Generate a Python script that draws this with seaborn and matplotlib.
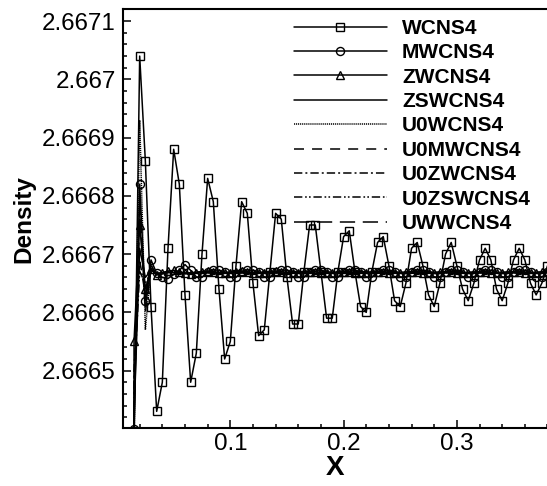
import numpy as np
import matplotlib
matplotlib.use("Agg")
import matplotlib.pyplot as plt
import seaborn as sns
from matplotlib.ticker import MultipleLocator, FuncFormatter
from matplotlib.font_manager import FontProperties

# Grid points (uniform spacing 0.005)
x = np.round(np.arange(0.010, 0.3801, 0.005), 3)

WCNS4 = [
    1.0, 2.66636, 2.66704, 2.66686, 2.66661,
    2.66643, 2.66648, 2.66671, 2.66688, 2.66682,
    2.66663, 2.66648, 2.66653, 2.66670, 2.66683,
    2.66679, 2.66664, 2.66652, 2.66655, 2.66668,
    2.66679, 2.66677, 2.66665, 2.66656, 2.66657,
    2.66667, 2.66677, 2.66676, 2.66666, 2.66658,
    2.66658, 2.66667, 2.66675, 2.66675, 2.66667,
    2.66659, 2.66659, 2.66667, 2.66673, 2.66674,
    2.66667, 2.66661, 2.66660, 2.66667, 2.66672,
    2.66673, 2.66668, 2.66662, 2.66661, 2.66665,
    2.66671, 2.66672, 2.66668, 2.66663, 2.66661,
    2.66665, 2.66670, 2.66672, 2.66668, 2.66664,
    2.66662, 2.66665, 2.66669, 2.66671, 2.66669,
    2.66664, 2.66662, 2.66665, 2.66669, 2.66671,
    2.66669, 2.66665, 2.66663, 2.66665, 2.66668,
]

MWCNS4 = [
    1.0, 2.66640, 2.66682, 2.66662, 2.66669,
    2.666667, 2.666660, 2.666658, 2.666665, 2.666672,
    2.666682, 2.666672, 2.666661, 2.666660, 2.666670,
    2.666673, 2.666672, 2.666670, 2.666661, 2.666660,
    2.666670, 2.666673, 2.666672, 2.666670, 2.666661,
    2.666660, 2.666670, 2.666673, 2.666672, 2.666670,
    2.666661, 2.666660, 2.666670, 2.666673, 2.666672,
    2.666670, 2.666661, 2.666660, 2.666670, 2.666673,
    2.666672, 2.666670, 2.666661, 2.666660, 2.666670,
    2.666673, 2.666672, 2.666670, 2.666661, 2.666660,
    2.666670, 2.666673, 2.666672, 2.666670, 2.666661,
    2.666660, 2.666670, 2.666673, 2.666672, 2.666670,
    2.666661, 2.666660, 2.666670, 2.666673, 2.666672,
    2.666670, 2.666661, 2.666660, 2.666670, 2.666673,
    2.666672, 2.666670, 2.666661, 2.666660, 2.666670,
]

ZWCNS4 = [
    1.0, 2.66655, 2.66675, 2.66664, 2.666675,
    2.666664, 2.666668, 2.666671, 2.666672, 2.666670,
    2.666667, 2.666666, 2.666668, 2.666670, 2.666671,
    2.666670, 2.666668, 2.666667, 2.666667, 2.666669,
    2.666671, 2.666670, 2.666668, 2.666667, 2.666667,
    2.666669, 2.666671, 2.666670, 2.666668, 2.666667,
    2.666667, 2.666669, 2.666670, 2.666670, 2.666668,
    2.666667, 2.666667, 2.666669, 2.666670, 2.666670,
    2.666668, 2.666667, 2.666667, 2.666669, 2.666670,
    2.666670, 2.666668, 2.666667, 2.666667, 2.666669,
    2.666670, 2.666670, 2.666668, 2.666667, 2.666667,
    2.666669, 2.666670, 2.666670, 2.666668, 2.666667,
    2.666667, 2.666669, 2.666670, 2.666670, 2.666668,
    2.666667, 2.666667, 2.666669, 2.666670, 2.666670,
    2.666668, 2.666667, 2.666667, 2.666669, 2.666670,
]

ZSWCNS4 = [
    1.0, 2.66642, 2.66671, 2.66666, 2.666672,
    2.666666, 2.666668, 2.666669, 2.666668, 2.666667,
    2.666667, 2.666668, 2.666669, 2.666669, 2.666668,
    2.666667, 2.666667, 2.666668, 2.666669, 2.666669,
    2.666668, 2.666667, 2.666667, 2.666668, 2.666669,
    2.666669, 2.666668, 2.666667, 2.666667, 2.666668,
    2.666669, 2.666669, 2.666668, 2.666667, 2.666667,
    2.666668, 2.666669, 2.666669, 2.666668, 2.666667,
    2.666667, 2.666668, 2.666669, 2.666669, 2.666668,
    2.666667, 2.666667, 2.666668, 2.666669, 2.666669,
    2.666668, 2.666667, 2.666667, 2.666668, 2.666669,
    2.666669, 2.666668, 2.666667, 2.666667, 2.666668,
    2.666669, 2.666669, 2.666668, 2.666667, 2.666667,
    2.666668, 2.666669, 2.666669, 2.666668, 2.666667,
    2.666667, 2.666668, 2.666669, 2.666669, 2.666668,
]

U0WCNS4 = [
    1.0, 2.66638, 2.66693, 2.66657, 2.66668,
    2.666665, 2.666667, 2.666669, 2.666670, 2.666668,
    2.666666, 2.666667, 2.666669, 2.666670, 2.666669,
    2.666667, 2.666666, 2.666668, 2.666670, 2.666670,
    2.666668, 2.666667, 2.666667, 2.666669, 2.666670,
    2.666669, 2.666667, 2.666667, 2.666668, 2.666670,
    2.666670, 2.666668, 2.666667, 2.666667, 2.666669,
    2.666670, 2.666669, 2.666667, 2.666667, 2.666668,
    2.666670, 2.666670, 2.666668, 2.666667, 2.666667,
    2.666669, 2.666670, 2.666669, 2.666667, 2.666667,
    2.666668, 2.666670, 2.666670, 2.666668, 2.666667,
    2.666667, 2.666669, 2.666670, 2.666669, 2.666667,
    2.666667, 2.666668, 2.666670, 2.666670, 2.666668,
    2.666667, 2.666667, 2.666669, 2.666670, 2.666669,
    2.666667, 2.666667, 2.666668, 2.666670, 2.666670,
]

U0MWCNS4 = [
    1.0, 2.66646, 2.66679, 2.66660, 2.666675,
    2.666664, 2.666666, 2.666669, 2.666671, 2.666669,
    2.666667, 2.666666, 2.666668, 2.666670, 2.666670,
    2.666668, 2.666667, 2.666667, 2.666669, 2.666670,
    2.666669, 2.666667, 2.666667, 2.666668, 2.666670,
    2.666670, 2.666668, 2.666667, 2.666667, 2.666669,
    2.666670, 2.666669, 2.666667, 2.666667, 2.666668,
    2.666670, 2.666670, 2.666668, 2.666667, 2.666667,
    2.666669, 2.666670, 2.666669, 2.666667, 2.666667,
    2.666668, 2.666670, 2.666670, 2.666668, 2.666667,
    2.666667, 2.666669, 2.666670, 2.666669, 2.666667,
    2.666667, 2.666668, 2.666670, 2.666670, 2.666668,
    2.666667, 2.666667, 2.666669, 2.666670, 2.666669,
    2.666667, 2.666667, 2.666668, 2.666670, 2.666670,
    2.666668, 2.666667, 2.666667, 2.666669, 2.666670,
]

U0ZWCNS4 = [
    1.0, 2.66650, 2.66669, 2.66663, 2.666670,
    2.666666, 2.666668, 2.666669, 2.666669, 2.666668,
    2.666667, 2.666667, 2.666668, 2.666669, 2.666669,
    2.666668, 2.666667, 2.666667, 2.666668, 2.666669,
    2.666669, 2.666668, 2.666667, 2.666667, 2.666668,
    2.666669, 2.666669, 2.666668, 2.666667, 2.666667,
    2.666668, 2.666669, 2.666669, 2.666668, 2.666667,
    2.666667, 2.666668, 2.666669, 2.666669, 2.666668,
    2.666667, 2.666667, 2.666668, 2.666669, 2.666669,
    2.666668, 2.666667, 2.666667, 2.666668, 2.666669,
    2.666669, 2.666668, 2.666667, 2.666667, 2.666668,
    2.666669, 2.666669, 2.666668, 2.666667, 2.666667,
    2.666668, 2.666669, 2.666669, 2.666668, 2.666667,
    2.666667, 2.666668, 2.666669, 2.666669, 2.666668,
    2.666667, 2.666667, 2.666668, 2.666669, 2.666669,
]

U0ZSWCNS4 = [
    1.0, 2.66648, 2.66667, 2.66665, 2.666669,
    2.666667, 2.666668, 2.666668, 2.666668, 2.666667,
    2.666667, 2.666668, 2.666668, 2.666668, 2.666668,
    2.666667, 2.666667, 2.666668, 2.666668, 2.666668,
    2.666668, 2.666667, 2.666667, 2.666668, 2.666668,
    2.666668, 2.666668, 2.666667, 2.666667, 2.666668,
    2.666668, 2.666668, 2.666668, 2.666667, 2.666667,
    2.666668, 2.666668, 2.666668, 2.666668, 2.666667,
    2.666667, 2.666668, 2.666668, 2.666668, 2.666668,
    2.666667, 2.666667, 2.666668, 2.666668, 2.666668,
    2.666668, 2.666667, 2.666667, 2.666668, 2.666668,
    2.666668, 2.666668, 2.666667, 2.666667, 2.666668,
    2.666668, 2.666668, 2.666668, 2.666667, 2.666667,
    2.666668, 2.666668, 2.666668, 2.666668, 2.666667,
    2.666667, 2.666668, 2.666668, 2.666668, 2.666668,
]

UWWCNS4 = [
    1.0, 2.66644, 2.66677, 2.66661, 2.666676,
    2.666665, 2.666667, 2.666670, 2.666671, 2.666669,
    2.666667, 2.666666, 2.666668, 2.666670, 2.666670,
    2.666669, 2.666667, 2.666667, 2.666668, 2.666670,
    2.666670, 2.666668, 2.666667, 2.666667, 2.666669,
    2.666670, 2.666669, 2.666667, 2.666667, 2.666668,
    2.666670, 2.666670, 2.666668, 2.666667, 2.666667,
    2.666669, 2.666670, 2.666669, 2.666667, 2.666667,
    2.666668, 2.666670, 2.666670, 2.666668, 2.666667,
    2.666667, 2.666669, 2.666670, 2.666669, 2.666667,
    2.666667, 2.666668, 2.666670, 2.666670, 2.666668,
    2.666667, 2.666667, 2.666669, 2.666670, 2.666669,
    2.666667, 2.666667, 2.666668, 2.666670, 2.666670,
    2.666668, 2.666667, 2.666667, 2.666669, 2.666670,
    2.666669, 2.666667, 2.666667, 2.666668, 2.666670,
]

labels = ["WCNS4", "MWCNS4", "ZWCNS4", "ZSWCNS4", "U0WCNS4",
          "U0MWCNS4", "U0ZWCNS4", "U0ZSWCNS4", "UWWCNS4"]
series = [WCNS4, MWCNS4, ZWCNS4, ZSWCNS4, U0WCNS4,
          U0MWCNS4, U0ZWCNS4, U0ZSWCNS4, UWWCNS4]

sns.set_theme(style="white")
plt.rcParams["font.family"] = ["Liberation Sans", "DejaVu Sans"]
plt.rcParams["lines.scale_dashes"] = False
plt.rcParams["text.color"] = "black"
plt.rcParams["axes.labelcolor"] = "black"

lw = 1.1
line_styles = [
    dict(linestyle="-", marker="s", markersize=5.2, markerfacecolor="none",
         markeredgecolor="black", markeredgewidth=1.0),
    dict(linestyle="-", marker="o", markersize=5.8, markerfacecolor="none",
         markeredgecolor="black", markeredgewidth=1.0),
    dict(linestyle="-", marker="^", markersize=5.2, markerfacecolor="none",
         markeredgecolor="black", markeredgewidth=1.0),
    dict(linestyle="-"),
    dict(linestyle=(0, (0.8, 0.6))),
    dict(linestyle=(0, (7.2, 5.8))),
    dict(linestyle=(0, (6.0, 2.2, 1.4, 2.2))),
    dict(linestyle=(0, (6.0, 2.0, 1.2, 1.6, 1.2, 2.0))),
    dict(linestyle=(0, (11.0, 5.5))),
]

fig = plt.figure(figsize=(5.47, 4.86), dpi=100)
ax = fig.add_axes([0.2243, 0.12, 0.7766, 0.8605])

for name, yv, kw in zip(labels, series, line_styles):
    sns.lineplot(x=x, y=yv, ax=ax, color="black", linewidth=lw,
                 estimator=None, sort=False, label=name, **kw)

ax.set_xlim(0.005, 0.38)
ax.set_ylim(2.666402, 2.66712)

ax.xaxis.set_major_locator(MultipleLocator(0.1))
ax.xaxis.set_minor_locator(MultipleLocator(0.02))
ax.yaxis.set_major_locator(MultipleLocator(0.0001))
ax.yaxis.set_minor_locator(MultipleLocator(0.00002))
ax.xaxis.set_major_formatter(FuncFormatter(lambda v, _: f"{v:.1f}"))
ax.yaxis.set_major_formatter(
    FuncFormatter(lambda v, _: f"{v:.4f}".rstrip("0").rstrip(".")))

ax.tick_params(which="both", direction="in", left=True, bottom=True,
               top=False, right=False, width=1.1, colors="black")
ax.tick_params(which="major", length=5.8, labelsize=17.4, pad=5)
ax.tick_params(axis="x", which="major", pad=4)
ax.tick_params(which="minor", length=3.0)

for side in ["left", "bottom", "top"]:
    ax.spines[side].set_linewidth(1.5)
    ax.spines[side].set_color("black")
ax.spines["right"].set_visible(False)

ax.set_xlabel("X", fontsize=20, fontweight="bold", labelpad=0, color="black")
ax.set_ylabel("Density", fontsize=17.5, fontweight="bold", labelpad=5,
              color="black")

leg = ax.legend(loc="upper right", bbox_to_anchor=(1.0, 1.0175), frameon=False,
                numpoints=1, handlelength=4.5, handletextpad=0.7,
                labelspacing=0.26, borderaxespad=0.4, borderpad=0.4,
                prop=FontProperties(family="Liberation Sans", weight="bold",
                                    size=15))
for t in leg.get_texts():
    t.set_color("black")

fig.savefig("out.png", dpi=100)
